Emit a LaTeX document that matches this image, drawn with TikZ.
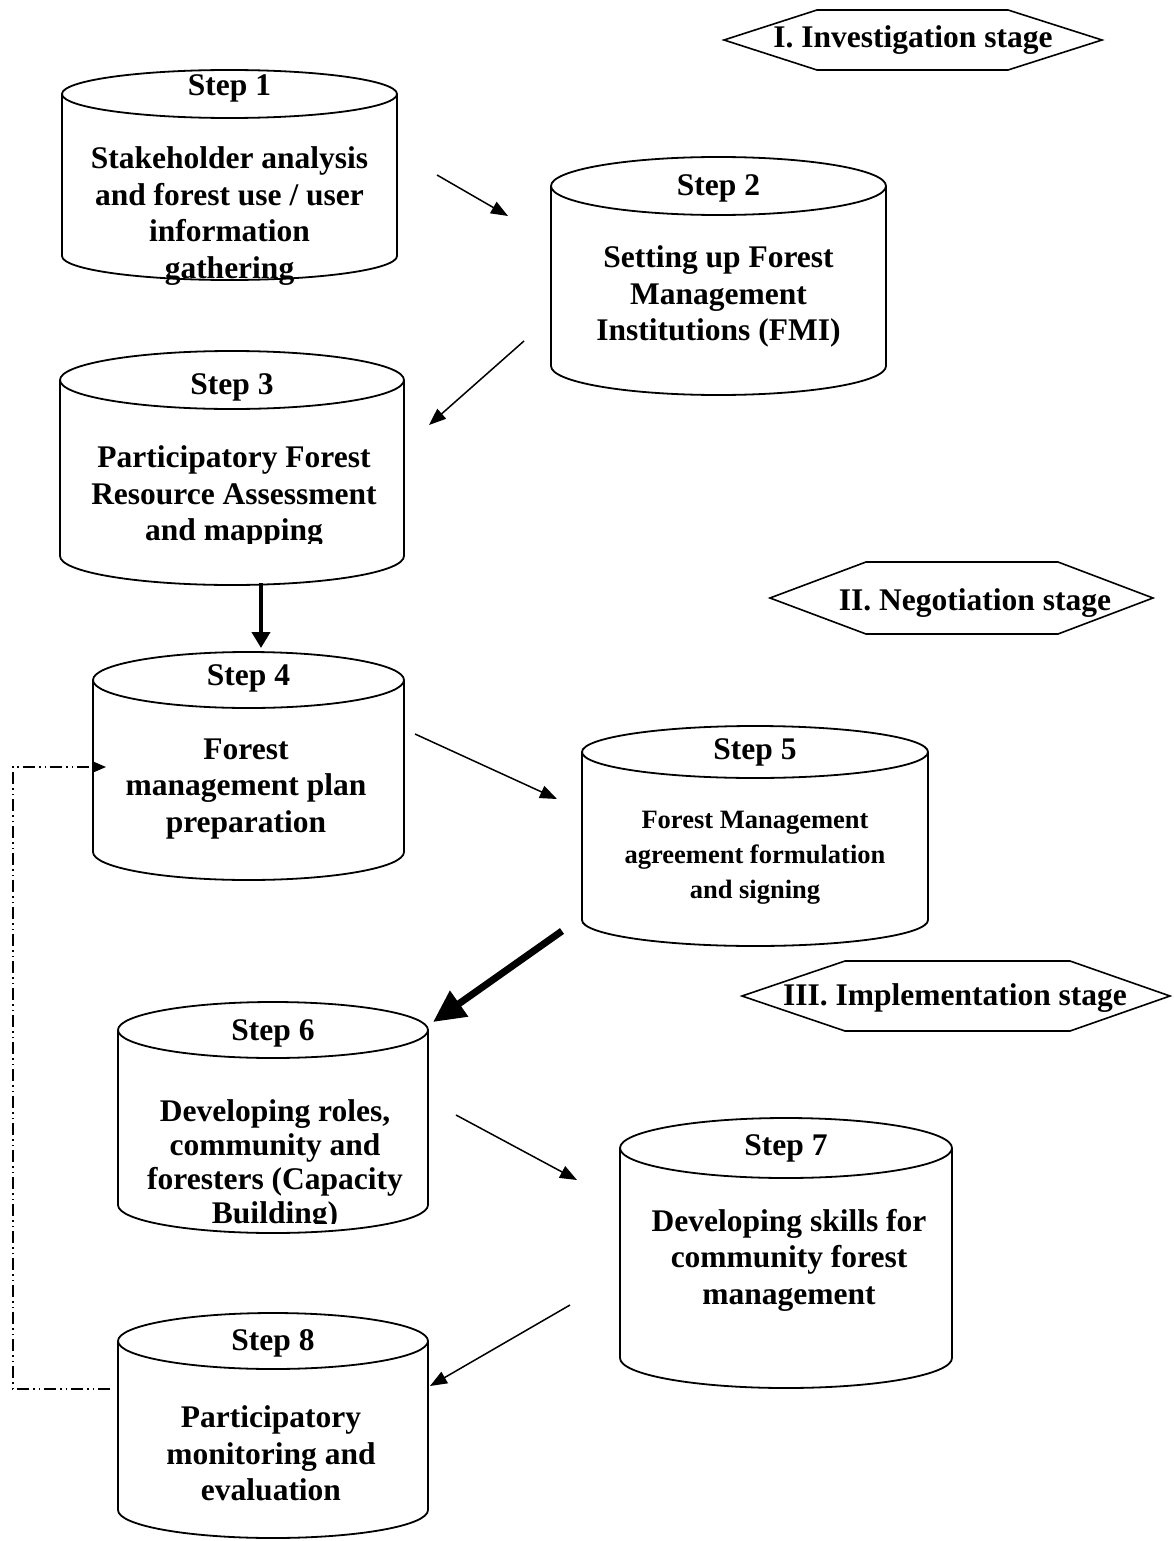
\documentclass[tikz,border=0pt]{standalone}
\usepackage{fontspec}
\setmainfont{Liberation Serif}
\usetikzlibrary{arrows.meta}
\tikzset{
  cylline/.style={draw=black,line width=1.8pt,fill=white,line join=round},
  steptitle/.style={font=\bfseries\fontsize{31.5}{36.5}\selectfont,inner sep=0pt},
  stepbody/.style={font=\bfseries\fontsize{31.5}{36.5}\selectfont,align=center,inner sep=0pt},
  stagebox/.style={draw=black,line width=1.6pt,fill=white,line join=miter},
  stagetext/.style={font=\bfseries\fontsize{31.5}{36.5}\selectfont,inner sep=0pt},
  thinarrow/.style={line width=1.5pt,-{Triangle[length=17pt,width=13pt]}},
  thickarrow/.style={line width=4.5pt,-{Triangle[length=16pt,width=18pt]}},
  heavyarrow/.style={line width=7pt,-{Triangle[length=32pt,width=30pt]}},
  feedback/.style={line width=1.2pt,dash pattern=on 12pt off 4pt on 1.5pt off 4pt on 1.5pt off 4pt,-{Triangle[length=12pt,width=10pt]}}
}
% L R ytopcenter ybottomcenter ry  (pixel units, y downwards)
\newcommand\cyl[5]{%
  \pgfmathsetmacro\cylrx{(#2-#1)/2}%
  \draw[cylline] (#1pt,-#3pt) -- (#1pt,-#4pt)
     arc[start angle=180,end angle=360,x radius=\cylrx pt,y radius=#5pt]
     -- (#2pt,-#3pt)
     arc[start angle=0,end angle=180,x radius=\cylrx pt,y radius=#5pt] -- cycle;
  \draw[line width=1.8pt] (#1pt,-#3pt)
     arc[start angle=180,end angle=360,x radius=\cylrx pt,y radius=#5pt];}
% tipL tipR cornerL cornerR ycenter halfheight
\newcommand\stagehex[6]{%
  \draw[stagebox] (#1pt,-#5pt) -- (#3pt,{-(#5-#6)*1pt}) -- (#4pt,{-(#5-#6)*1pt})
     -- (#2pt,-#5pt) -- (#4pt,{-(#5+#6)*1pt}) -- (#3pt,{-(#5+#6)*1pt}) -- cycle;}
\begin{document}
\begin{tikzpicture}[x=1pt,y=1pt]
\useasboundingbox (0,0) rectangle (1173,-1541);
\fill[white] (0,0) rectangle (1173,-1541);

% ---------- stage labels ----------
\stagehex{724}{1102}{817}{1008}{40}{30}
\node[stagetext] (h1) at (913,-40) {I. Investigation stage};
\stagehex{770}{1153}{866}{1058}{598}{36}
\node[stagetext] (h2) at (975,-603) {II. Negotiation stage};
\stagehex{742}{1170}{845}{1070}{996}{35}
\node[stagetext] (h3) at (955,-998) {III. Implementation stage};

% ---------- cylinders ----------
\cyl{62}{397}{94}{256}{24}
\node[steptitle] (t1) at (229.5,-88) {Step 1};
\node[stepbody] (s1) at (229.5,-216) {Stakeholder analysis\\and forest use / user\\information\\gathering};

\cyl{551}{886}{186}{366}{29}
\node[steptitle] (t2) at (718.5,-188) {Step 2};
\node[stepbody] (s2) at (718.5,-296.5) {Setting up Forest\\Management\\Institutions (FMI)};

\cyl{60}{404}{380}{556}{29}
\node[steptitle] (t3) at (232,-387) {Step 3};
\begin{scope}
\clip (0,-420) rectangle (1173,-543);
\node[stepbody] (s3) at (234,-497) {Participatory Forest\\Resource Assessment\\and mapping};
\end{scope}

\cyl{93}{404}{680}{852}{28}
\node[steptitle] (t4) at (248.5,-678) {Step 4};
\node[stepbody] (s4) at (246,-789) {Forest\\management plan\\preparation};

\cyl{582}{928}{752}{920}{26}
\node[steptitle] (t5) at (755,-752) {Step 5};
\node[stepbody,font=\bfseries\fontsize{26.5}{35}\selectfont] (s5) at (755,-858) {Forest Management\\agreement formulation\\and signing};

\cyl{118}{428}{1030}{1205}{28}
\node[steptitle] (t6) at (273,-1033) {Step 6};
\begin{scope}
\clip (0,-1070) rectangle (1173,-1223);
\node[stepbody,font=\bfseries\fontsize{31.5}{34}\selectfont] (s6) at (275,-1165) {Developing roles,\\community and\\foresters (Capacity\\Building)};
\end{scope}

\cyl{620}{952}{1148}{1358}{30}
\node[steptitle] (t7) at (786,-1148) {Step 7};
\node[stepbody] (s7) at (789,-1260) {Developing skills for\\community forest\\management};

\cyl{118}{428}{1341}{1510}{28}
\node[steptitle] (t8) at (273,-1343) {Step 8};
\node[stepbody] (s8) at (271,-1453.5) {Participatory\\monitoring and\\evaluation};

% ---------- connectors ----------
\coordinate (a12s) at (437,-175);  \coordinate (a12e) at (508,-216);
\coordinate (a23s) at (524,-341);  \coordinate (a23e) at (429,-425);
\coordinate (a34s) at (261,-583);  \coordinate (a34e) at (261,-648);
\coordinate (a45s) at (415,-734);  \coordinate (a45e) at (557,-799);
\coordinate (a56s) at (562,-931);  \coordinate (a56e) at (433,-1022);
\coordinate (a67s) at (456,-1115); \coordinate (a67e) at (577,-1180);
\coordinate (a78s) at (570,-1305); \coordinate (a78e) at (430,-1386);
\coordinate (fbs) at (110,-1389);  \coordinate (fbe) at (106,-767);

\draw[thinarrow] (a12s) -- (a12e);
\draw[thinarrow] (a23s) -- (a23e);
\draw[thickarrow] (a34s) -- (a34e);
\draw[thinarrow] (a45s) -- (a45e);
\draw[heavyarrow] (a56s) -- (a56e);
\draw[thinarrow] (a67s) -- (a67e);
\draw[thinarrow] (a78s) -- (a78e);
\draw[feedback] (fbs) -- (13,-1389) -- (13,-767) -- (fbe);
\end{tikzpicture}
\end{document}
